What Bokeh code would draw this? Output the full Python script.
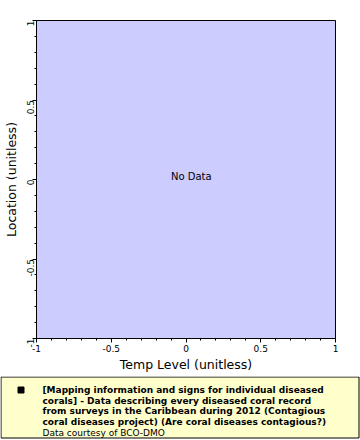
import math
from bokeh.plotting import figure
from bokeh.layouts import column
from bokeh.models import Range1d, FixedTicker
from bokeh.core.properties import value
from bokeh.embed import file_html
from bokeh.resources import INLINE

# ---- data ----
x_limits = [-1, 1]
y_limits = [-1, 1]
major_ticks = [-1, -0.5, 0, 0.5, 1]
minor_ticks = [-0.9, -0.8, -0.7, -0.6, -0.4, -0.3, -0.2, -0.1,
               0.1, 0.2, 0.3, 0.4, 0.6, 0.7, 0.8, 0.9]
tick_labels = {-1: "-1", -0.5: "-0.5", 0: "0", 0.5: "0.5", 1: "1"}
x_title = "Temp Level (unitless)"
y_title = "Location (unitless)"
no_data_text = ["No Data"]
legend_title_lines = [
    "[Mapping information and signs for individual diseased",
    "corals] - Data describing every diseased coral record",
    "from surveys in the Caribbean during 2012 (Contagious",
    "coral diseases project) (Are coral diseases contagious?)",
]
legend_credit = ["Data courtesy of BCO-DMO"]

FONT = "DejaVu Sans"
W = 360

# ---- main plot ----
p = figure(width=W, height=376, output_backend="svg", toolbar_location=None,
           x_range=Range1d(*x_limits), y_range=Range1d(*y_limits),
           min_border_left=36, min_border_right=25, min_border_top=20,
           min_border_bottom=38)
p.frame_align = False
p.background_fill_color = "#CCCCFF"
p.border_fill_color = "white"
p.outline_line_color = "black"
p.outline_line_width = 1
p.grid.visible = False

for ax in (p.xaxis[0], p.yaxis[0]):
    ax.ticker = FixedTicker(ticks=major_ticks, minor_ticks=minor_ticks)
    ax.major_label_overrides = tick_labels
    ax.major_label_text_font = FONT
    ax.major_label_text_font_size = "9px"
    ax.major_label_text_color = "black"
    ax.axis_label_text_font = FONT
    ax.axis_label_text_font_size = "12.5px"
    ax.axis_label_text_font_style = "normal"
    ax.axis_label_text_color = "black"
    ax.axis_line_color = "black"
    ax.major_tick_line_color = "black"
    ax.minor_tick_line_color = "black"
    ax.major_tick_in = 0
    ax.major_tick_out = 4
    ax.minor_tick_in = 0
    ax.minor_tick_out = 2
    ax.major_label_standoff = 2
    ax.axis_label_standoff = 2

p.xaxis.axis_label = x_title
p.yaxis.axis_label = y_title
p.yaxis.major_label_orientation = math.pi / 2

p.text(x=[0], y=[0], text=no_data_text, text_font=value(FONT),
       text_font_size="10px", text_color="black", text_align="left",
       text_baseline="alphabetic", x_offset=-15, y_offset=-3)

# ---- legend box (pixel coordinates) ----
LH = 64
lg = figure(width=W, height=LH, output_backend="svg", toolbar_location=None,
            x_range=Range1d(0, W), y_range=Range1d(LH, 0),
            min_border=0, min_border_left=0, min_border_right=0,
            min_border_top=0, min_border_bottom=0)
lg.frame_align = False
lg.axis.visible = False
lg.grid.visible = False
lg.outline_line_color = None
lg.background_fill_color = "white"
lg.border_fill_color = "white"

lg.quad(left=[0.5], right=[W - 1.5], top=[0.5], bottom=[61.5],
        fill_color="#FFFFCC", line_color="black", line_width=1)
lg.scatter(x=[20.5], y=[13.5], marker="square", size=6,
           fill_color="black", line_color="black")
line_y = [13, 24, 34.8, 45.5]
lg.text(x=[42] * len(legend_title_lines), y=line_y, text=legend_title_lines,
        text_font=value(FONT), text_font_size="9px", text_font_style="bold",
        text_color="black", text_baseline="middle", text_align="left")
lg.text(x=[42], y=[56], text=legend_credit,
        text_font=value(FONT), text_font_size="9px", text_font_style="normal",
        text_color="black", text_baseline="middle", text_align="left")

layout = column(p, lg, spacing=0)
open("out.html", "w").write(file_html(layout, INLINE))
